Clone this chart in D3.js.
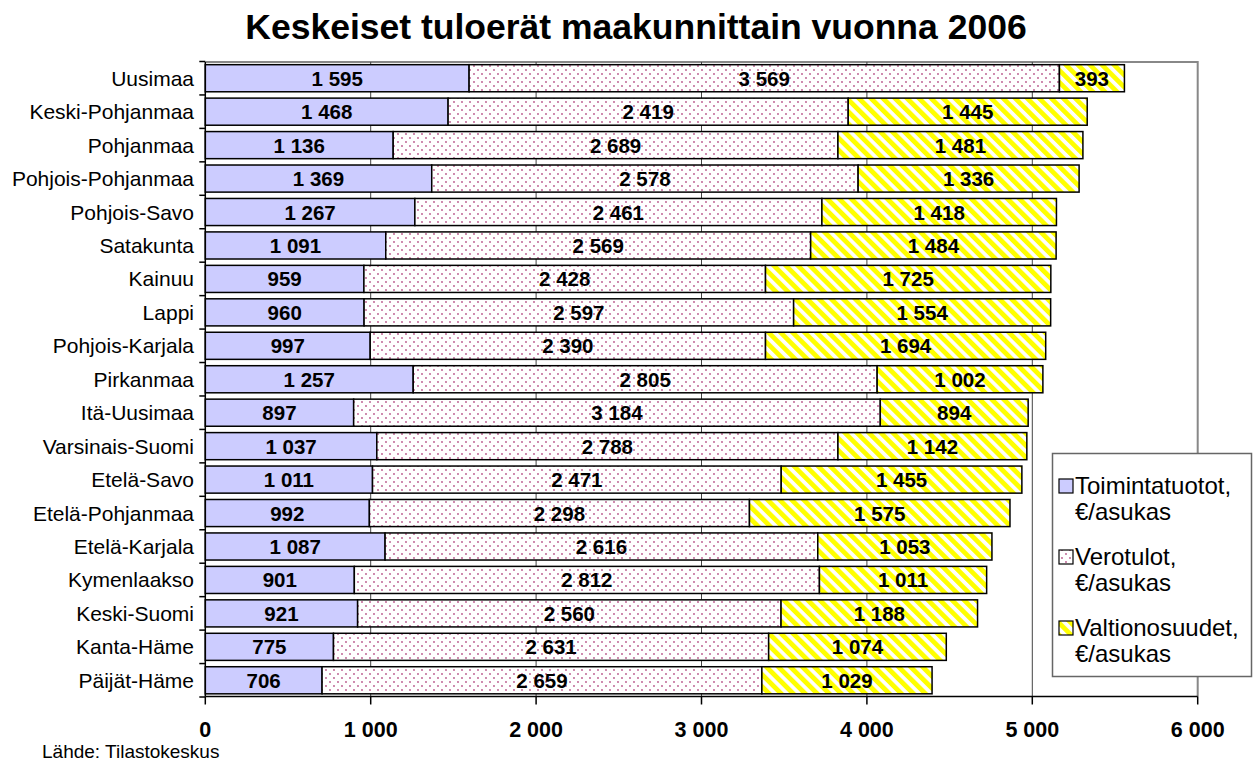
<!DOCTYPE html>
<html>
<head>
<meta charset="utf-8">
<script src="https://cdn.jsdelivr.net/npm/d3@7"></script>
<style>
  body { margin: 0; background: #fff; }
  svg { font-family: "Liberation Sans", Arial, sans-serif; }
</style>
</head>
<body>
<svg id="chart" width="1256" height="762"></svg>
<script>
// ===== DATA =====
const regions = ['Uusimaa', 'Keski-Pohjanmaa', 'Pohjanmaa', 'Pohjois-Pohjanmaa', 'Pohjois-Savo',
    'Satakunta', 'Kainuu', 'Lappi', 'Pohjois-Karjala', 'Pirkanmaa', 'Itä-Uusimaa', 'Varsinais-Suomi',
    'Etelä-Savo', 'Etelä-Pohjanmaa', 'Etelä-Karjala', 'Kymenlaakso', 'Keski-Suomi', 'Kanta-Häme', 'Päijät-Häme'];
const toimintatuotot = [1595, 1468, 1136, 1369, 1267, 1091, 959, 960, 997, 1257, 897, 1037, 1011, 992, 1087, 901, 921, 775, 706];
const verotulot = [3569, 2419, 2689, 2578, 2461, 2569, 2428, 2597, 2390, 2805, 3184, 2788, 2471, 2298, 2616, 2812, 2560, 2631, 2659];
const valtionosuudet = [393, 1445, 1481, 1336, 1418, 1484, 1725, 1554, 1694, 1002, 894, 1142, 1455, 1575, 1053, 1011, 1188, 1074, 1029];
const seriesNames = [['Toimintatuotot,', '€/asukas'], ['Verotulot,', '€/asukas'], ['Valtionosuudet,', '€/asukas']];
const xTicks = [0, 1000, 2000, 3000, 4000, 5000, 6000];

const fi = d3.formatLocale({ decimal: ',', thousands: ' ', grouping: [3], currency: ['', ' €'] });
const fmt = fi.format(',d');

const svg = d3.select('#chart');
const defs = svg.append('defs');

// patterns
const dots = defs.append('pattern').attr('id', 'dots')
    .attr('patternUnits', 'userSpaceOnUse').attr('width', 8).attr('height', 8);
dots.append('rect').attr('width', 8).attr('height', 8).attr('fill', '#fff');
dots.append('circle').attr('cx', 2).attr('cy', 2).attr('r', 0.9).attr('fill', '#b8558a');
dots.append('circle').attr('cx', 6).attr('cy', 6).attr('r', 0.9).attr('fill', '#b8558a');

const stripes = defs.append('pattern').attr('id', 'stripes')
    .attr('patternUnits', 'userSpaceOnUse').attr('width', 8.5).attr('height', 8.5)
    .attr('patternTransform', 'rotate(-45)');
stripes.append('rect').attr('width', 8.5).attr('height', 8.5).attr('fill', '#fff');
stripes.append('rect').attr('width', 4.8).attr('height', 8.5).attr('fill', '#ffff00');

const fills = ['#ccccff', 'url(#dots)', 'url(#stripes)'];

// layout
const plotL = 205.3, plotR = 1197.7, plotT = 62, plotB = 696.5;

const x = d3.scaleLinear().domain([0, 6000]).range([plotL, plotR]);
const y = d3.scaleBand().domain(regions).range([plotT, plotB]).paddingInner(0.19).paddingOuter(0.08);

// title
svg.append('text')
    .attr('x', 636).attr('y', 39)
    .attr('text-anchor', 'middle')
    .attr('font-size', 35.5).attr('font-weight', 700)
    .text('Keskeiset tuloerät maakunnittain vuonna 2006');

// plot area border (top & right)
svg.append('path')
    .attr('d', `M${plotL},${plotT}H${plotR}V${plotB}`)
    .attr('fill', 'none').attr('stroke', '#888').attr('stroke-width', 2);

// gridlines
svg.append('g').selectAll('line')
    .data(xTicks.slice(1, -1))
    .join('line')
    .attr('x1', d => x(d)).attr('x2', d => x(d))
    .attr('y1', plotT).attr('y2', plotB)
    .attr('stroke', '#444').attr('stroke-width', 1);

// stacked bars
const rows = regions.map((r, i) => ({ r, vals: [toimintatuotot[i], verotulot[i], valtionosuudet[i]] }));
const segs = [];
rows.forEach(row => {
    let acc = 0;
    row.vals.forEach((v, s) => {
        segs.push({ r: row.r, s, v, x0: acc, x1: acc + v });
        acc += v;
    });
});

svg.append('g').selectAll('rect')
    .data(segs)
    .join('rect')
    .attr('x', d => x(d.x0))
    .attr('y', d => y(d.r))
    .attr('width', d => x(d.x1) - x(d.x0))
    .attr('height', y.bandwidth())
    .attr('fill', d => fills[d.s])
    .attr('stroke', '#000').attr('stroke-width', 1.5);

svg.append('g').selectAll('text')
    .data(segs)
    .join('text')
    .attr('x', d => x((d.x0 + d.x1) / 2))
    .attr('y', d => y(d.r) + y.bandwidth() / 2 + 7.5)
    .attr('text-anchor', 'middle')
    .attr('font-size', 20.5).attr('font-weight', 700)
    .text(d => fmt(d.v));

// y axis
const yAxis = svg.append('g');
yAxis.append('line')
    .attr('x1', plotL).attr('x2', plotL).attr('y1', plotT).attr('y2', plotB)
    .attr('stroke', '#000').attr('stroke-width', 1.5);
const step = y.step();
const y0 = y(regions[0]) - y.paddingInner() * step / 2;
yAxis.selectAll('line.tick')
    .data(d3.range(regions.length + 1))
    .join('line').attr('class', 'tick')
    .attr('x1', plotL - 6).attr('x2', plotL)
    .attr('y1', i => y0 + i * step)
    .attr('y2', i => y0 + i * step)
    .attr('stroke', '#000').attr('stroke-width', 1.5);
yAxis.selectAll('text')
    .data(regions)
    .join('text')
    .attr('x', 194)
    .attr('y', d => y(d) + y.bandwidth() / 2 + 7.5)
    .attr('text-anchor', 'end')
    .attr('font-size', 21)
    .text(d => d);

// x axis
const xAxis = svg.append('g');
xAxis.append('line')
    .attr('x1', plotL).attr('x2', plotR).attr('y1', plotB).attr('y2', plotB)
    .attr('stroke', '#000').attr('stroke-width', 1.5);
xAxis.selectAll('line.tick')
    .data(xTicks)
    .join('line').attr('class', 'tick')
    .attr('x1', d => x(d)).attr('x2', d => x(d))
    .attr('y1', plotB).attr('y2', plotB + 8)
    .attr('stroke', '#000').attr('stroke-width', 1.5);
xAxis.selectAll('text')
    .data(xTicks)
    .join('text')
    .attr('x', d => x(d)).attr('y', 737)
    .attr('text-anchor', 'middle')
    .attr('font-size', 21.5).attr('font-weight', 700)
    .text(d => fmt(d));

// legend
const lg = svg.append('g');
lg.append('rect')
    .attr('x', 1052.5).attr('y', 453.5).attr('width', 199).attr('height', 223)
    .attr('fill', '#fff').attr('stroke', '#666').attr('stroke-width', 1.5);
seriesNames.forEach((lines, i) => {
    const by = 494 + i * 71;
    lg.append('rect')
        .attr('x', 1059).attr('y', by - 15).attr('width', 14).attr('height', 14)
        .attr('fill', fills[i]).attr('stroke', '#000').attr('stroke-width', 1.2);
    lines.forEach((t, j) => {
        lg.append('text')
            .attr('x', 1075).attr('y', by + j * 26)
            .attr('font-size', 24)
            .text(t);
    });
});

// source
svg.append('text')
    .attr('x', 42).attr('y', 757.5)
    .attr('font-size', 19)
    .text('Lähde: Tilastokeskus');
</script>
</body>
</html>
